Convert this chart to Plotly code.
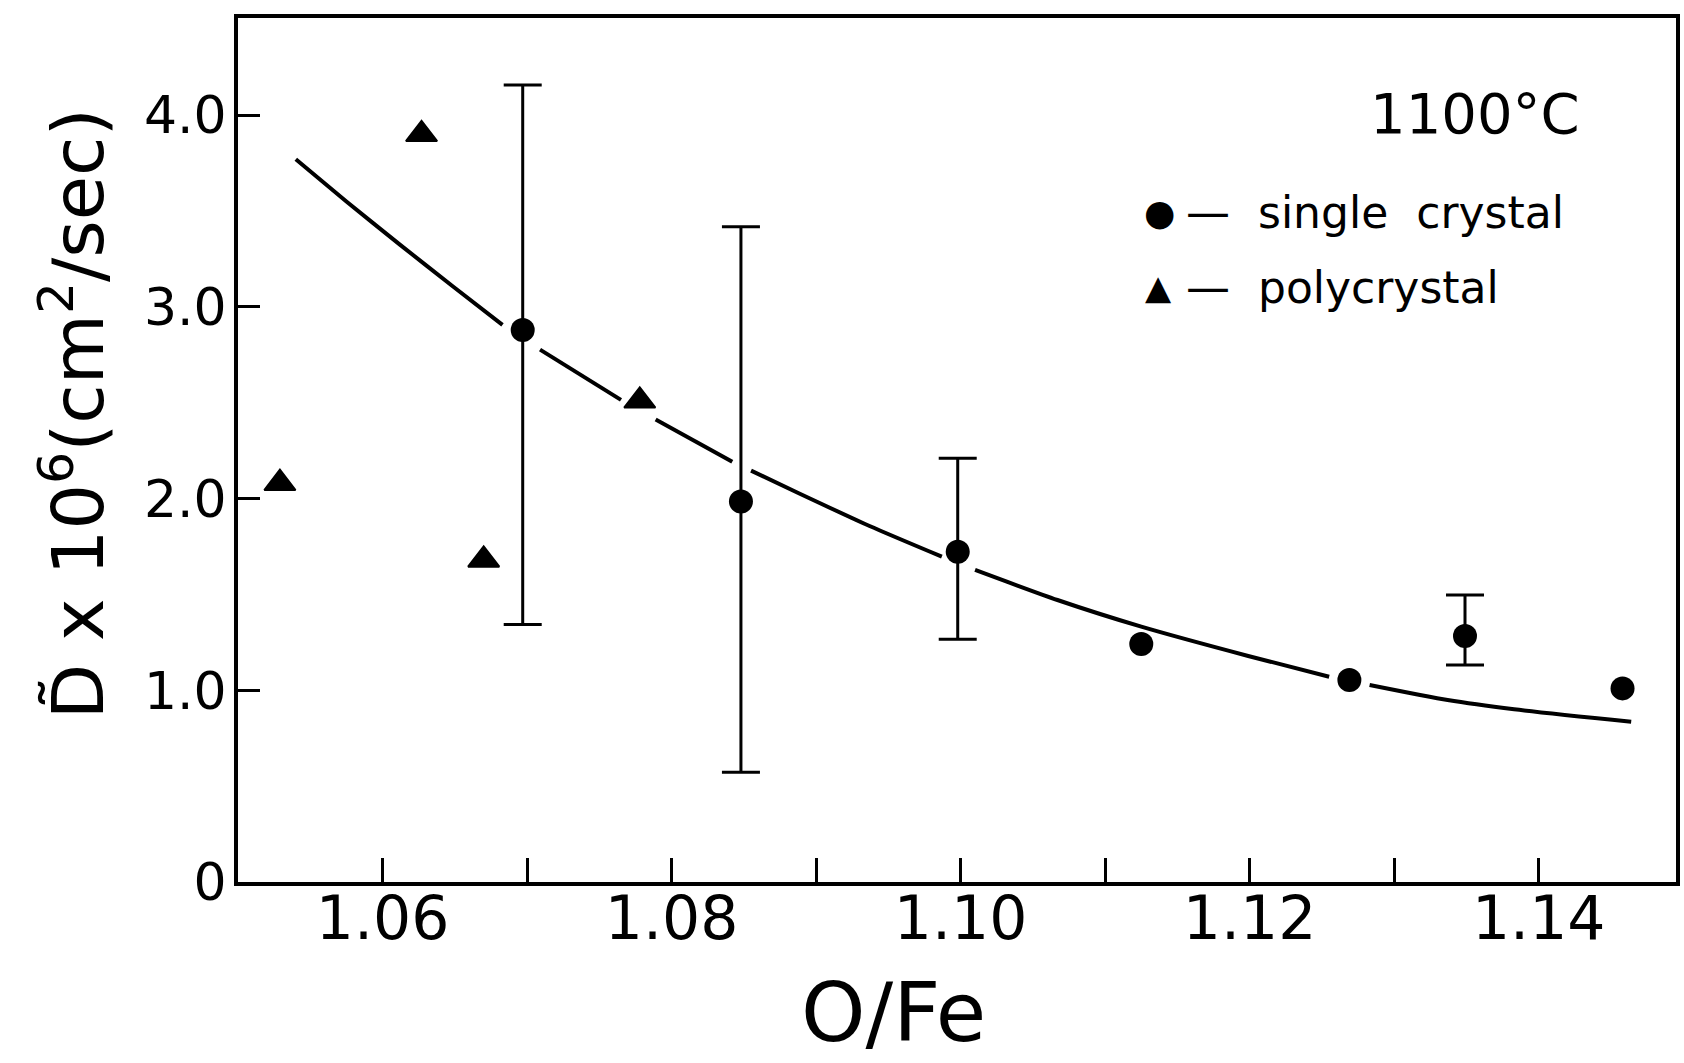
import plotly.graph_objects as go

# ---------------- data ----------------
single_x = [1.0697, 1.0848, 1.0998, 1.1125, 1.1269, 1.1349, 1.1458]
single_y = [2.880, 1.985, 1.723, 1.242, 1.054, 1.283, 1.010]
single_hi = [4.158, 3.418, 2.210, None, None, 1.497, None]
single_lo = [1.343, 0.573, 1.266, None, None, 1.132, None]

poly_x = [1.0529, 1.0627, 1.0670, 1.0778]
poly_y = [2.08, 3.90, 1.68, 2.51]

# hand-drawn fit curve (None marks the breaks drawn around the symbols)
curve_x = [1.0540, 1.0575, 1.0612, 1.0649, 1.0683, None,
           1.0709, 1.0765, None,
           1.0789, 1.0842, None,
           1.0855, 1.0888, 1.0937, 1.0987, None,
           1.1010, 1.1067, 1.1125, 1.1199, 1.1255, None,
           1.1283, 1.1337, 1.1383, 1.1464]
curve_y = [3.770, 3.550, 3.325, 3.105, 2.906, None,
           2.777, 2.515, None,
           2.412, 2.192, None,
           2.146, 2.028, 1.857, 1.697, None,
           1.628, 1.471, 1.332, 1.179, 1.071, None,
           1.028, 0.949, 0.901, 0.836]

x_tickvals = [1.06, 1.08, 1.10, 1.12, 1.14]
x_ticktext = ["1.06", "1.08", "1.10", "1.12", "1.14"]
y_tickvals = [0, 1, 2, 3, 4]
y_ticktext = ["0", "1.0", "2.0", "3.0", "4.0"]

# split single-crystal points into those with and without error bars
idx_err = [i for i, h in enumerate(single_hi) if h is not None]
idx_plain = [i for i, h in enumerate(single_hi) if h is None]
err_x = [single_x[i] for i in idx_err]
err_y = [single_y[i] for i in idx_err]
err_plus = [single_hi[i] - single_y[i] for i in idx_err]
err_minus = [single_y[i] - single_lo[i] for i in idx_err]
plain_x = [single_x[i] for i in idx_plain]
plain_y = [single_y[i] for i in idx_plain]

FONT = "DejaVu Sans, Liberation Sans, sans-serif"

fig = go.Figure()

fig.add_trace(go.Scatter(
    x=curve_x, y=curve_y, mode="lines",
    line=dict(color="black", width=4, shape="spline", smoothing=0.6),
    connectgaps=False, showlegend=False, hoverinfo="skip"))

fig.add_trace(go.Scatter(
    x=err_x, y=err_y, mode="markers",
    marker=dict(symbol="circle", size=24, color="black"),
    error_y=dict(type="data", symmetric=False, array=err_plus,
                 arrayminus=err_minus, color="black", thickness=3, width=19),
    showlegend=False, name="single crystal"))

fig.add_trace(go.Scatter(
    x=plain_x, y=plain_y, mode="markers",
    marker=dict(symbol="circle", size=24, color="black"),
    showlegend=False, name="single crystal"))

fig.add_trace(go.Scatter(
    x=poly_x, y=poly_y, mode="markers",
    marker=dict(symbol="triangle-up", size=27, color="black",
                line=dict(color="black", width=2)),
    showlegend=False, name="polycrystal"))

annotations = [
    dict(text="O/Fe", xref="paper", yref="paper", x=0.4556, y=-0.1516,
         xanchor="center", yanchor="middle", showarrow=False,
         font=dict(family=FONT, size=82, color="black")),
    dict(text="D\u0303 x 10<sup>6</sup>(cm<sup>2</sup>/sec)", xref="paper", yref="paper",
         x=-0.115, y=0.542, xanchor="center", yanchor="middle", textangle=-90,
         showarrow=False, font=dict(family=FONT, size=72, color="black")),
    dict(text="1100°C", xref="paper", yref="paper", x=0.86, y=0.889,
         xanchor="center", yanchor="middle", showarrow=False,
         font=dict(family=FONT, size=56, color="black")),
    dict(text="\u25CF", xref="paper", yref="paper", x=(1162 - 238) / 1442,
         y=(882 - 212) / 864, xanchor="center", yanchor="middle", showarrow=False,
         font=dict(family=FONT, size=36, color="black")),
    dict(text="\u25B2", xref="paper", yref="paper", x=(1161 - 238) / 1442,
         y=(882 - 287) / 864, xanchor="center", yanchor="middle", showarrow=False,
         font=dict(family=FONT, size=34, color="black")),
    dict(text="\u2014\u00a0\u00a0single\u00a0\u00a0crystal", xref="paper", yref="paper",
         x=(1187 - 238) / 1442, y=(882 - 212) / 864, xanchor="left", yanchor="middle",
         showarrow=False, font=dict(family=FONT, size=44, color="black")),
    dict(text="\u2014\u00a0\u00a0polycrystal", xref="paper", yref="paper",
         x=(1187 - 238) / 1442, y=(882 - 287) / 864, xanchor="left", yanchor="middle",
         showarrow=False, font=dict(family=FONT, size=44, color="black")),
]

fig.update_layout(
    width=1684, height=1063,
    margin=dict(l=238, r=4, t=18, b=181),
    paper_bgcolor="white", plot_bgcolor="white",
    annotations=annotations,
    showlegend=False,
)

fig.update_xaxes(
    range=[1.0500, 1.1495], showgrid=False, zeroline=False,
    showline=True, linecolor="black", linewidth=4, mirror=True,
    ticks="inside", ticklen=24, tickwidth=3, tickcolor="black",
    tickvals=x_tickvals, ticktext=x_ticktext, ticklabelstandoff=-19,
    tickfont=dict(family=FONT, size=60, color="black"),
    minor=dict(dtick=0.01, tick0=1.06, ticks="inside", ticklen=24,
               tickwidth=3, tickcolor="black", showgrid=False),
)
fig.update_yaxes(
    range=[0, 4.507], showgrid=False, zeroline=False,
    showline=True, linecolor="black", linewidth=4, mirror=True,
    ticks="inside", ticklen=22, tickwidth=3, tickcolor="black",
    tickvals=y_tickvals, ticktext=y_ticktext, ticklabelstandoff=-3,
    tickfont=dict(family=FONT, size=52, color="black"),
)

fig.write_html("out.html")
